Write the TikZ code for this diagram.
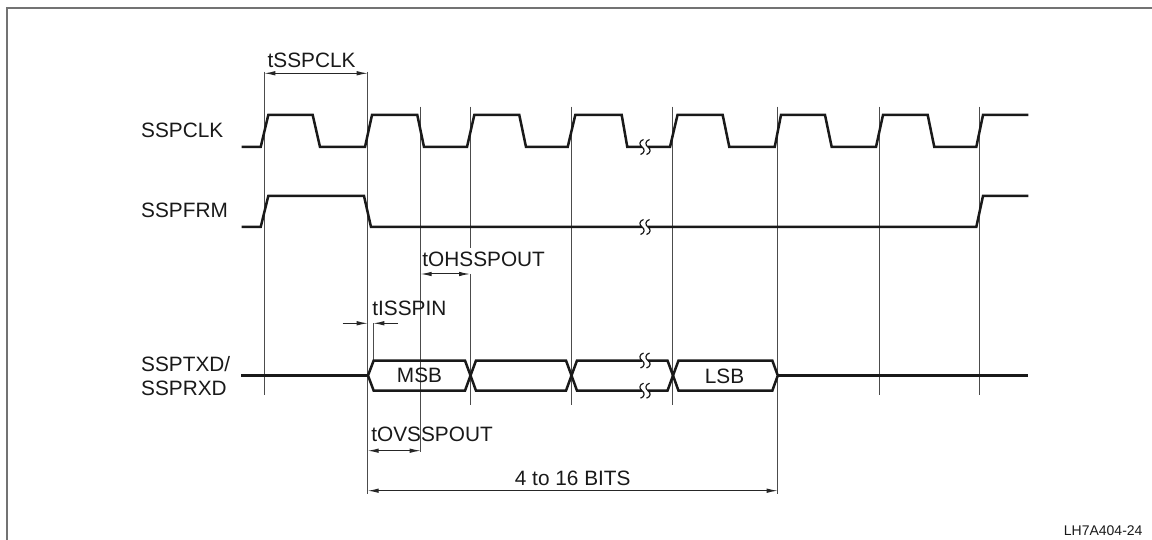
\documentclass[tikz,border=0pt]{standalone}
\usepackage{fontspec}
\setmainfont{Liberation Sans}
\usetikzlibrary{arrows.meta}
\begin{document}
\begin{tikzpicture}[x=1pt,y=-1pt,
  sig/.style={line width=2.5pt, line join=miter, black!90},
  guide/.style={line width=1pt, black!70},
  dimboth/.style={line width=1pt, black!85, {Latex[length=11pt,width=4.5pt]}-{Latex[length=11pt,width=4.5pt]}},
  dimone/.style={line width=1pt, black!85, -{Latex[length=11pt,width=4.5pt]}},
  lbl/.style={font=\fontsize{20.8}{24}\selectfont, inner sep=0pt, text=black!90},
  brkmk/.pic={
    \fill[white] (-3.2,-2) rectangle (3.2,2);
    \draw[line width=1.2pt, black!90] (-1.5,-7.5) .. controls (-6,-6) and (-6,-2) .. (-3,0) .. controls (0,2) and (0,6) .. (-4.5,7.5);
    \draw[line width=1.2pt, black!90] (4.5,-7.5) .. controls (0,-6) and (0,-2) .. (3,0) .. controls (6,2) and (6,6) .. (1.5,7.5);
  }]
\useasboundingbox (0,0) rectangle (1152,540);
% frame
\draw[line width=2pt, black!55] (7,540) -- (7,8) -- (1152,8);

% guide lines
\draw[guide] (264.3,71.7) -- (264.3,395);
\draw[guide] (367.7,71.7) -- (367.7,494);
\draw[guide] (420.7,106.7) -- (420.7,451.7);
\draw[guide] (470,106.7) -- (470,248);
\draw[guide] (470,274) -- (470,405);
\draw[guide] (571.3,106.7) -- (571.3,405);
\draw[guide] (672.7,106.7) -- (672.7,405);
\draw[guide] (777.7,106.7) -- (777.7,494);
\draw[guide] (879.3,106.7) -- (879.3,395);
\draw[guide] (979.3,106.7) -- (979.3,395);
\draw[guide] (373.3,323.3) -- (373.3,360.5);

% SSPCLK
\draw[sig] (241.7,147) -- (260.7,147) -- (268.3,115) -- (312.7,115) -- (320,147)
  -- (365,147) -- (372,115) -- (417.3,115) -- (424,147)
  -- (467,147) -- (474.3,115) -- (519.3,115) -- (526,147)
  -- (567.7,147) -- (575.3,115) -- (621.7,115) -- (627.3,147)
  -- (670,147) -- (677.5,115) -- (722.7,115) -- (729.3,147)
  -- (774.7,147) -- (781,115) -- (825,115) -- (831.7,147)
  -- (876,147) -- (883,115) -- (927.7,115) -- (934.3,147)
  -- (976.3,147) -- (983,115) -- (1028.3,115);
\pic at (645,147) {brkmk};

% SSPFRM
\draw[sig] (241.7,227) -- (260.7,227) -- (268.3,196) -- (364,196) -- (371,227)
  -- (976.3,227) -- (983,196) -- (1028.3,196);
\pic at (645,227) {brkmk};

% SSPTXD / SSPRXD bus
\draw[sig] (241,375.5) -- (368,375.5);
\draw[sig] (368,375.5) -- (373.7,360.5) -- (465,360.5) -- (470.5,375.5) -- (465,390.7) -- (373.7,390.7) -- cycle;
\draw[sig] (470.5,375.5) -- (476,360.5) -- (566,360.5) -- (571.5,375.5) -- (566,390.7) -- (476,390.7) -- cycle;
\draw[sig] (571.5,375.5) -- (577,360.5) -- (667.5,360.5) -- (673,375.5) -- (667.5,390.7) -- (577,390.7) -- cycle;
\draw[sig] (673,375.5) -- (678.5,360.5) -- (772.3,360.5) -- (777.8,375.5) -- (772.3,390.7) -- (678.5,390.7) -- cycle;
\draw[sig] (777.8,375.5) -- (1028.3,375.5);
\pic at (645,360.5) {brkmk};
\pic at (645,390.7) {brkmk};

% dimension arrows
\draw[dimboth] (264.3,73.3) -- (367.7,73.3);
\draw[dimboth] (420.7,274) -- (470,274);
\draw[dimone] (342.7,323.3) -- (367.7,323.3);
\draw[dimone] (398,323.3) -- (373.3,323.3);
\draw[dimboth] (367.7,450.7) -- (420.7,450.7);
\draw[dimboth] (367.7,490.7) -- (777.7,490.7);

% labels
\node[lbl, anchor=base west] (lclk) at (141,137.3) {SSPCLK};
\node[lbl, anchor=base west] (lfrm) at (141,217.3) {SSPFRM};
\node[lbl, anchor=base west] (ltxd) at (141,371.7) {SSPTXD/};
\node[lbl, anchor=base west] (lrxd) at (141,395) {SSPRXD};
\node[lbl, anchor=base west] (tclk) at (267.5,67.3) {tSSPCLK};
\node[lbl, anchor=base west] (toh) at (422.2,266.7) {tOHSSPOUT};
\node[lbl, anchor=base west] (tis) at (372.2,316) {tISSPIN};
\node[lbl, anchor=base west] (tov) at (371.2,441.7) {tOVSSPOUT};
\node[lbl, anchor=base] (msb) at (419.5,382.7) {MSB};
\node[lbl, anchor=base] (lsb) at (724.5,383) {LSB};
\node[lbl, anchor=base] (bits) at (572.7,485.5) {4 to 16 BITS};
\node[font=\fontsize{14}{16}\selectfont, inner sep=0pt, anchor=base east, text=black!90] (fig) at (1142.7,535) {LH7A404-24};
\end{tikzpicture}
\end{document}
